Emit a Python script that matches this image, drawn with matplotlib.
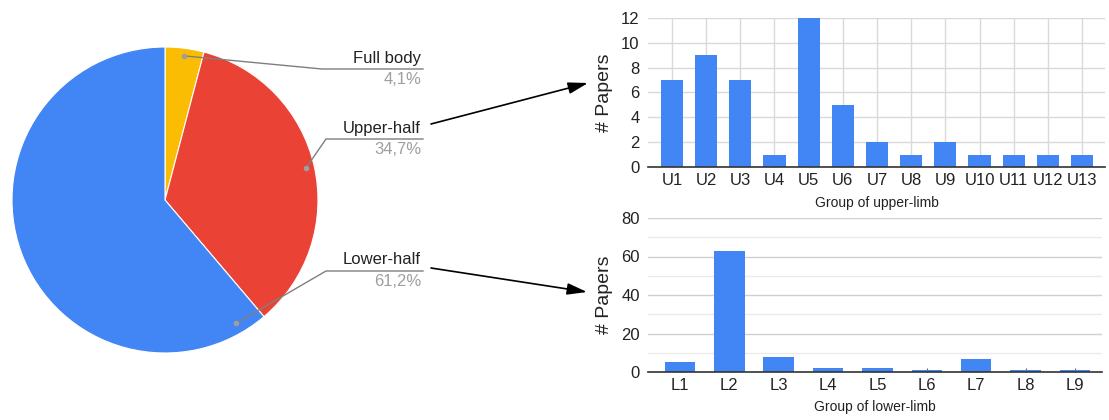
import numpy as np
import matplotlib
matplotlib.use("Agg")
import matplotlib.pyplot as plt
from matplotlib.ticker import MultipleLocator

plt.rcParams['font.family'] = ['Liberation Sans', 'DejaVu Sans']

# ---------------- data ----------------
pie_labels = ["Full body", "Upper-half", "Lower-half"]
pie_pcts = [4.1, 34.7, 61.2]
pie_colors = ["#FBBC04", "#EA4335", "#4285F4"]

upper_cats = ["U1", "U2", "U3", "U4", "U5", "U6", "U7", "U8", "U9", "U10", "U11", "U12", "U13"]
upper_vals = [7, 9, 7, 1, 12, 5, 2, 1, 2, 1, 1, 1, 1]

lower_cats = ["L1", "L2", "L3", "L4", "L5", "L6", "L7", "L8", "L9"]
lower_vals = [5, 63, 8, 2, 2, 1, 7, 1, 1]

BLUE = "#4285F4"
W, H = 1109, 420
fig = plt.figure(figsize=(W / 100, H / 100), dpi=100)


def px_rect(x0, y0, x1, y1):
    """pixel box (top-left origin) -> figure fraction rect"""
    return [x0 / W, 1 - y1 / H, (x1 - x0) / W, (y1 - y0) / H]


# ---------------- pie ----------------
cx, cy, r = 165, 200, 153
axp = fig.add_axes(px_rect(cx - r, cy - r, cx + r, cy + r))
axp.pie(pie_pcts, colors=pie_colors, startangle=90, counterclock=False,
        radius=1, wedgeprops=dict(edgecolor="white", linewidth=0.8))
axp.set_xlim(-1, 1)
axp.set_ylim(-1, 1)
axp.set_aspect("equal")
axp.axis("off")

# overlay axes in pixel coordinates for leader lines / arrows
ov = fig.add_axes([0, 0, 1, 1], facecolor="none", zorder=10)
ov.set_xlim(0, W)
ov.set_ylim(H, 0)
ov.axis("off")

cum = np.cumsum([0] + pie_pcts[:-1])
mid_angles = [90 - (c + p / 2) * 3.6 for c, p in zip(cum, pie_pcts)]
dot_angles = [mid_angles[0], mid_angles[1], -60]
dot_r = [0.95, 0.945, 0.93]
label_y = [58, 128, 260]
line_y = [69, 139, 271]
line_x0 = [322, 326, 326]
text_right = 421
for lab, pct, ang, rr, ly, lny, lx0 in zip(pie_labels, pie_pcts, dot_angles, dot_r,
                                           label_y, line_y, line_x0):
    dx = cx + r * rr * np.cos(np.radians(ang))
    dy = cy - r * rr * np.sin(np.radians(ang))
    ov.plot([dx, lx0, 423], [dy, lny, lny], color="#7f7f7f", lw=1.0)
    ov.plot([dx], [dy], "o", color="#9e9e9e", ms=4, mec="none")
    ov.text(text_right, ly, lab, ha="right", va="center", fontsize=12, color="#222222")
    ov.text(text_right, ly + 22, f"{pct:.1f}%".replace(".", ","), ha="right",
            va="center", fontsize=12, color="#9e9e9e")

# arrows
ov.annotate("", xy=(588, 83), xytext=(431, 124),
            arrowprops=dict(arrowstyle="-|>,head_length=1.2,head_width=0.35",
                            color="black", lw=1.2, shrinkA=0, shrinkB=0))
ov.annotate("", xy=(587, 292), xytext=(431, 268),
            arrowprops=dict(arrowstyle="-|>,head_length=1.2,head_width=0.35",
                            color="black", lw=1.2, shrinkA=0, shrinkB=0))


def style_bar_axes(ax):
    for s in ["top", "right", "left"]:
        ax.spines[s].set_visible(False)
    ax.spines["bottom"].set_color("#333333")
    ax.spines["bottom"].set_linewidth(1.2)
    ax.tick_params(axis="y", length=0, labelsize=12, colors="#222222", pad=6)
    ax.tick_params(axis="x", length=3, direction="in", color="#666666",
                   labelsize=12, labelcolor="#222222", pad=4)
    ax.set_axisbelow(True)


# ---------------- upper bar chart ----------------
axu = fig.add_axes(px_rect(648, 18, 1105, 167))
xu = np.arange(len(upper_cats))
axu.bar(xu, upper_vals, width=0.65, color=BLUE)
axu.set_xlim(-0.7, len(upper_cats) - 1 + 0.67)
axu.set_ylim(0, 12)
axu.yaxis.set_major_locator(MultipleLocator(2))
axu.set_xticks(xu)
axu.set_xticklabels(upper_cats)
axu.grid(True, axis="both", color="#d9d9d9", lw=1.0)
style_bar_axes(axu)
axu.set_ylabel("# Papers", fontsize=14, color="#222222", labelpad=6)
axu.set_xlabel("Group of upper-limb", fontsize=10, color="#222222", labelpad=6)

# ---------------- lower bar chart ----------------
axl = fig.add_axes(px_rect(648, 218, 1102, 372))
xl = np.arange(len(lower_cats))
axl.bar(xl, lower_vals, width=0.62, color=BLUE)
axl.set_xlim(-0.65, len(lower_cats) - 1 + 0.55)
axl.set_ylim(0, 80)
axl.yaxis.set_major_locator(MultipleLocator(20))
axl.yaxis.set_minor_locator(MultipleLocator(10))
axl.set_xticks(xl)
axl.set_xticklabels(lower_cats)
axl.grid(True, axis="y", which="major", color="#d0d0d0", lw=1.0)
axl.grid(True, axis="y", which="minor", color="#ebebeb", lw=1.0)
axl.tick_params(axis="y", which="minor", length=0)
style_bar_axes(axl)
axl.set_ylabel("# Papers", fontsize=14, color="#222222", labelpad=6)
axl.set_xlabel("Group of lower-limb", fontsize=10, color="#222222", labelpad=5)

fig.savefig("out.png", dpi=100)
